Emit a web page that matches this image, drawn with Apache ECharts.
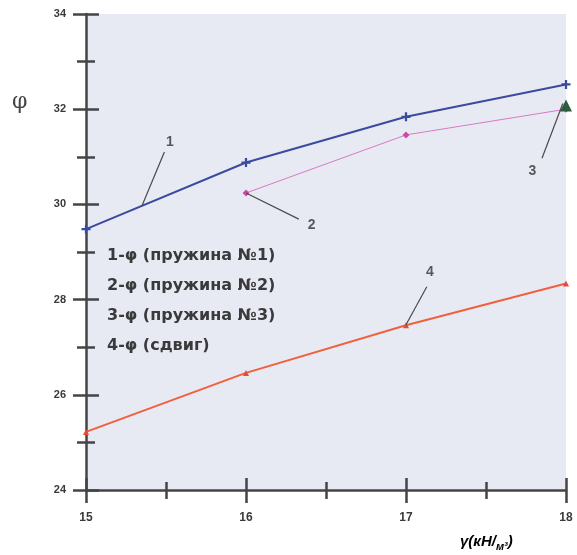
<!DOCTYPE html>
<html>
<head>
<meta charset="utf-8">
<script src="https://cdn.jsdelivr.net/npm/echarts@6/dist/echarts.min.js"></script>
<style>html,body{margin:0;padding:0;background:#fff;}#c{width:577px;height:555px;}</style>
</head>
<body>
<div id="c"></div>
<script>
// ---- data ----
const xValues = [15, 16, 17, 18];
const names = ['1-φ (пружина №1)', '2-φ (пружина №2)', '3-φ (пружина №3)', '4-φ (сдвиг)'];
const s1 = [29.48, 30.88, 31.84, 32.52];          // x = 15..18
const s2x = [16, 17, 18];
const s2 = [30.24, 31.46, 32.0];
const s3x = [18];
const s3 = [32.08];
const s4 = [25.22, 26.46, 27.46, 28.34];
const yTicks = [24, 26, 28, 30, 32, 34];
const xTicks = [15, 16, 17, 18];
// annotation numbers and leader lines (data coordinates)
const annoLabels = ['1', '2', '3', '4'];
const annoPos = [[15.525, 31.30], [16.41, 29.57], [17.79, 30.70], [17.15, 28.58]];
const leaderFrom = [[15.49, 31.10], [16.33, 29.69], [17.85, 30.97], [17.13, 28.27]];
const leaderTo = [[15.35, 29.97], [16.0, 30.24], [17.98, 32.12], [17.0, 27.47]];

const pair = (xs, ys) => xs.map((x, i) => [x, ys[i]]);
const FONT = 'Liberation Sans';
const AX = '#454548';

const plus = 'path://M3,0H5V3H8V5H5V8H3V5H0V3H3Z';

const chart = echarts.init(document.getElementById('c'), null, {renderer: 'canvas'});
const baseX = {
  type: 'value', min: xTicks[0], max: xTicks[xTicks.length - 1], interval: 1,
  splitLine: {show: false}
};
const baseY = {
  type: 'value', min: yTicks[0], max: yTicks[yTicks.length - 1], interval: 2,
  splitLine: {show: false}
};
chart.setOption({
  animation: false,
  backgroundColor: '#ffffff',
  grid: {left: 86, right: 11, top: 14, bottom: 65, show: true, backgroundColor: '#e8eaf3', borderWidth: 0},
  xAxis: [
    Object.assign({}, baseX, {
      position: 'bottom',
      axisLine: {show: true, lineStyle: {color: AX, width: 2.5}},
      axisTick: {show: true, length: 13, lineStyle: {color: AX, width: 2.5}},
      minorTick: {show: true, splitNumber: 2, length: 9, lineStyle: {color: AX, width: 2.5}},
      axisLabel: {margin: 22, color: '#3a3a3a', fontFamily: FONT, fontWeight: 'bold', fontSize: 12}
    }),
    Object.assign({}, baseX, {
      position: 'bottom',
      axisLine: {show: false},
      axisTick: {show: true, inside: true, length: 12, lineStyle: {color: AX, width: 2.5}},
      minorTick: {show: true, splitNumber: 2, length: 8, lineStyle: {color: AX, width: 2.5}},
      axisLabel: {show: false}
    })
  ],
  yAxis: [
    Object.assign({}, baseY, {
      position: 'left',
      axisLine: {show: true, lineStyle: {color: AX, width: 2.5}},
      axisTick: {show: true, length: 13, lineStyle: {color: AX, width: 2.5}},
      minorTick: {show: true, splitNumber: 2, length: 9, lineStyle: {color: AX, width: 2.5}},
      axisLabel: {margin: 20, color: '#3a3a3a', fontFamily: FONT, fontWeight: 'bold', fontSize: 11}
    }),
    Object.assign({}, baseY, {
      position: 'left',
      axisLine: {show: false},
      axisTick: {show: true, inside: true, length: 13, lineStyle: {color: AX, width: 2.5}},
      minorTick: {show: true, splitNumber: 2, length: 9, lineStyle: {color: AX, width: 2.5}},
      axisLabel: {show: false}
    })
  ],
  legend: {
    data: names,
    orient: 'vertical',
    left: 96, top: 243,
    icon: 'none', itemWidth: 1, itemHeight: 14, itemGap: 14,
    selectedMode: false,
    textStyle: {fontFamily: 'DejaVu Sans', fontWeight: 'bold', fontSize: 16, color: '#3a3a3c', lineHeight: 16}
  },
  graphic: [
    {type: 'text', left: 12, top: 91, style: {text: 'φ', font: '22px "DejaVu Serif"', fill: '#444'}},
    {type: 'text', left: 460, top: 534, style: {
      text: '{a|γ(кН/}{b|м³}{a|)}',
      rich: {
        a: {fontFamily: FONT, fontStyle: 'italic', fontWeight: 'bold', fontSize: 15, color: '#3a3a3a'},
        b: {fontFamily: FONT, fontStyle: 'italic', fontWeight: 'bold', fontSize: 11, color: '#3a3a3a', padding: [10, 0, 0, 0]}
      }
    }}
  ],
  series: [
    {name: names[0], type: 'line', data: pair(xValues, s1), symbol: plus, symbolSize: 9,
     lineStyle: {color: '#3b4a9e', width: 2}, itemStyle: {color: '#3b4a9e'}},
    {name: names[1], type: 'line', data: pair(s2x, s2), symbol: 'diamond', symbolSize: 7,
     lineStyle: {color: '#d77ac6', width: 1}, itemStyle: {color: '#cc4aa4'}},
    {name: names[2], type: 'line', data: pair(s3x, s3), symbol: 'triangle', symbolSize: 12,
     lineStyle: {color: '#2f5a3d', width: 1}, itemStyle: {color: '#2f5a3d'}},
    {name: names[3], type: 'line', data: pair(xValues, s4), symbol: 'triangle', symbolSize: 6,
     lineStyle: {color: '#f0603c', width: 2}, itemStyle: {color: '#e84a3a'}},
    {name: 'annotations', type: 'scatter', symbolSize: 0, silent: true,
     data: annoPos.map((p, i) => ({name: annoLabels[i], value: p})),
     label: {show: true, position: 'inside', formatter: '{b}', fontFamily: FONT, fontWeight: 'bold', fontSize: 14, color: '#333'},
     markLine: {silent: true, symbol: ['none', 'none'], label: {show: false},
       lineStyle: {color: '#4a4a4a', width: 1.2, type: 'solid'},
       data: leaderFrom.map((f, i) => [{coord: f}, {coord: leaderTo[i]}])}
    }
  ]
});
</script>
</body>
</html>
